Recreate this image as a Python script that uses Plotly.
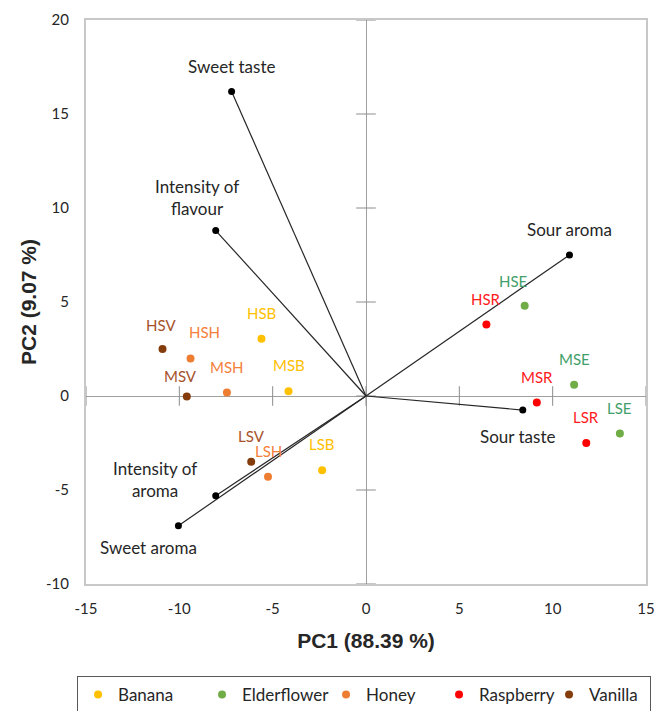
import plotly.graph_objects as go

# ---- data ----
groups = ["Banana", "Elderflower", "Honey", "Raspberry", "Vanilla"]
group_colors = ["#FFC000", "#70AD47", "#ED7D31", "#FF0000", "#843C0C"]
label_colors = ["#FFC000", "#3FA06A", "#F5803A", "#FF1A1A", "#A5522A"]

sample_labels = {
    "Banana": ["HSB", "MSB", "LSB"],
    "Elderflower": ["HSE", "MSE", "LSE"],
    "Honey": ["HSH", "MSH", "LSH"],
    "Raspberry": ["HSR", "MSR", "LSR"],
    "Vanilla": ["HSV", "MSV", "LSV"],
}
sample_pc1 = {
    "Banana": [-5.6, -4.15, -2.35],
    "Elderflower": [8.5, 11.15, 13.6],
    "Honey": [-9.4, -7.45, -5.25],
    "Raspberry": [6.45, 9.15, 11.8],
    "Vanilla": [-10.9, -9.6, -6.15],
}
sample_pc2 = {
    "Banana": [3.05, 0.25, -3.95],
    "Elderflower": [4.8, 0.6, -2.0],
    "Honey": [2.0, 0.18, -4.3],
    "Raspberry": [3.8, -0.35, -2.5],
    "Vanilla": [2.5, -0.02, -3.5],
}

attributes = ["Sweet taste", "Intensity of<br>flavour", "Sour aroma",
              "Sour taste", "Intensity of<br>aroma", "Sweet aroma"]
attr_pc1 = [-7.2, -8.05, 10.9, 8.4, -8.05, -10.05]
attr_pc2 = [16.2, 8.8, 7.5, -0.75, -5.3, -6.9]

x_ticks = [-15, -10, -5, 0, 5, 10, 15]
x_ticktext = ["-15", "-10", "-5", "0", "5", "10", "15"]
y_ticks = [-10, -5, 0, 5, 10, 15, 20]
y_ticktext = ["-10", "-5", "0", "5", "10", "15", "20"]

# ---- styling ----
attr_shift = [(0, 25), (-19, 33), (0, 26), (-5, -26), (-61, 16), (-30, -22)]
sample_shift = {"HSE": (-12, 25), "HSH": (14, 26), "MSV": (-6, 20), "HSV": (-2, 24)}
legend_widths = [79, 79, 68, 65, 56]

label_font = "Lato, 'Open Sans', sans-serif"

fig = go.Figure()

# tick marks crossing the zero axes (Excel style)
fig.add_trace(go.Scatter(
    x=[0] * len(y_ticks), y=y_ticks, mode="markers",
    marker=dict(symbol="line-ew", size=14, line=dict(color="#8C8C8C", width=1)),
    showlegend=False, hoverinfo="skip", cliponaxis=False))
fig.add_trace(go.Scatter(
    x=x_ticks, y=[0] * len(x_ticks), mode="markers",
    marker=dict(symbol="line-ns", size=14, line=dict(color="#8C8C8C", width=1)),
    showlegend=False, hoverinfo="skip", cliponaxis=False))

# attribute vectors
for ax_, ay_ in zip(attr_pc1, attr_pc2):
    fig.add_trace(go.Scatter(
        x=[0, ax_], y=[0, ay_], mode="lines",
        line=dict(color="#262626", width=1.2),
        showlegend=False, hoverinfo="skip"))
fig.add_trace(go.Scatter(
    x=attr_pc1, y=attr_pc2, mode="markers",
    marker=dict(color="black", size=7),
    showlegend=False, hoverinfo="skip"))

for name, ax_, ay_, (dx, dy) in zip(attributes, attr_pc1, attr_pc2, attr_shift):
    fig.add_annotation(x=ax_, y=ay_, text=name, showarrow=False,
                       xshift=dx, yshift=dy,
                       font=dict(family=label_font, size=17, color="#262626"))

# sample points
for g, c, lc, lw in zip(groups, group_colors, label_colors, legend_widths):
    fig.add_trace(go.Scatter(
        x=sample_pc1[g], y=sample_pc2[g], mode="markers", name=g,
        marker=dict(color=c, size=8), legendwidth=lw))
    for lab, sx, sy in zip(sample_labels[g], sample_pc1[g], sample_pc2[g]):
        dx, dy = sample_shift.get(lab, (0, 26))
        fig.add_annotation(x=sx, y=sy, text=lab, showarrow=False,
                           xshift=dx, yshift=dy,
                           font=dict(family=label_font, size=15, color=lc))

axis_common = dict(
    showgrid=False, zeroline=True, zerolinecolor="#A0A0A0", zerolinewidth=1,
    showline=True, linecolor="#C8C8C8", linewidth=2, mirror=True,
    ticks="", automargin=False, ticklabeloverflow="allow",
    tickfont=dict(family=label_font, size=15, color="#262626"),
)

title_font = dict(family="Liberation Sans, Arial", size=21, color="#262626")

fig.update_layout(
    width=654, height=711,
    margin=dict(l=86, r=8, t=20, b=127, autoexpand=False),
    plot_bgcolor="white", paper_bgcolor="white",
    xaxis=dict(range=[-15, 15], tickvals=x_ticks, ticktext=x_ticktext,
               ticklabelstandoff=10, **axis_common,
               title=dict(text="<b>PC1 (88.39 %)</b>", standoff=17, font=title_font)),
    yaxis=dict(range=[-10, 20], tickvals=y_ticks, ticktext=y_ticktext,
               ticklabelstandoff=12, **axis_common,
               title=dict(text="<b>PC2 (9.07 %)</b>", standoff=4, font=title_font)),
    legend=dict(orientation="h", x=-0.016, xanchor="left", y=-0.163, yanchor="top",
                bordercolor="#595959", borderwidth=1,
                font=dict(family=label_font, size=17, color="#262626"),
                itemwidth=30, tracegroupgap=0),
    showlegend=True,
)

fig.write_html("out.html", config={"displayModeBar": False},
               post_script="document.body.style.margin='0';document.body.style.overflow='hidden';")
